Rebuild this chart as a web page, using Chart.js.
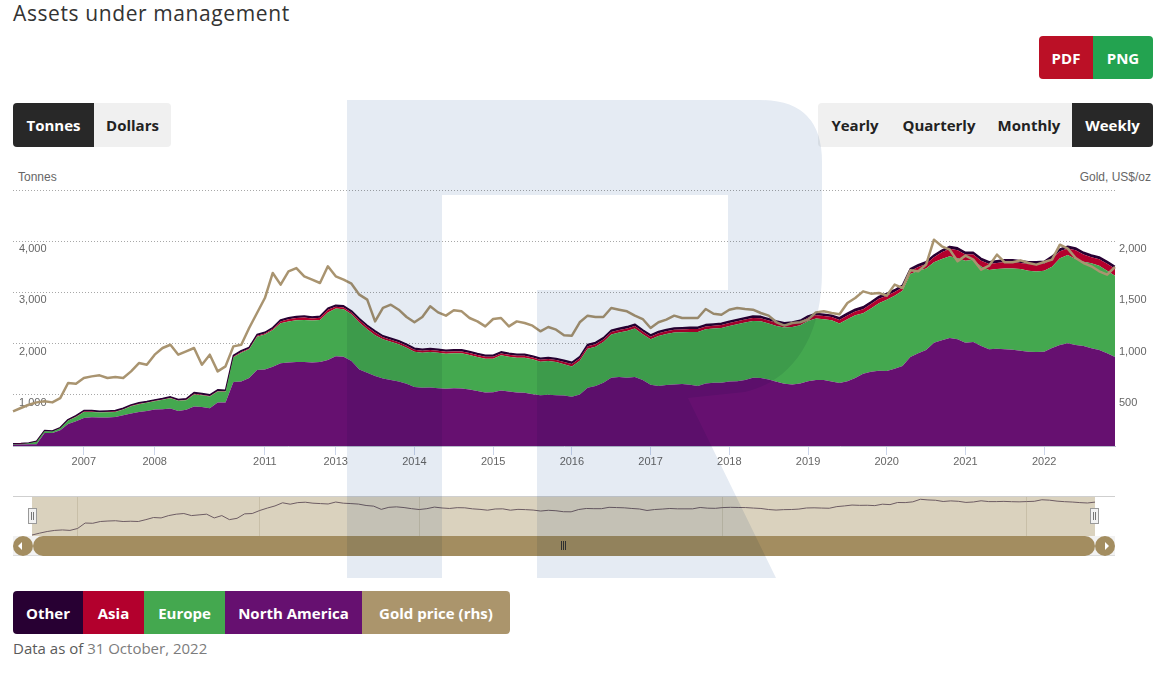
<!DOCTYPE html>
<html>
<head>
<meta charset="utf-8">
<title>Assets under management</title>
<script src="https://cdn.jsdelivr.net/npm/chart.js@4.4.0/dist/chart.umd.min.js"></script>
<style>
body{margin:0;background:#fff;font-family:"Open Sans",sans-serif;}
#page{position:relative;width:1170px;height:675px;overflow:hidden;background:#fff;}
.abs{position:absolute;}
.title{left:13px;top:-1px;font-size:21px;color:#333;line-height:28px;white-space:nowrap;letter-spacing:0.6px;}
.grp{position:absolute;display:flex;border-radius:4px;overflow:hidden;}
.grp div{display:flex;align-items:center;justify-content:center;font-weight:700;font-size:15px;color:#222;}
.grp .on{background:#282828;color:#fff;}
.axt{font-family:"Liberation Sans",Arial,sans-serif;font-size:12px;color:#666;top:170px;}
.leg div{color:#fff;}
.handle{position:absolute;top:508px;width:7px;height:14px;background:#f2f2f2;border:1px solid #999;}
.handle:before,.handle:after{content:"";position:absolute;top:3px;width:1px;height:8px;background:#777;}
.handle:before{left:2px;}
.handle:after{left:4px;}
.circ{position:absolute;top:536px;width:20px;height:20px;border-radius:50%;background:#a38d60;}
.grip{position:absolute;top:541px;width:1px;height:9px;background:#333;}
</style>
</head>
<body>
<div id="page">
  <div class="abs title">Assets under management</div>

  <div class="grp" style="left:1039px;top:36px;height:43px;">
    <div style="width:54px;background:#bb1026;color:#fff;">PDF</div>
    <div style="width:60px;background:#23a350;color:#fff;">PNG</div>
  </div>

  <div class="grp" style="left:13px;top:103px;height:44px;background:#f0f0f0;">
    <div class="on" style="width:81px;">Tonnes</div>
    <div style="width:77px;">Dollars</div>
  </div>

  <div class="grp" style="left:818px;top:103px;height:44px;background:#f0f0f0;">
    <div style="width:74px;">Yearly</div>
    <div style="width:94px;">Quarterly</div>
    <div style="width:86px;">Monthly</div>
    <div class="on" style="width:81px;">Weekly</div>
  </div>

  <div class="abs axt" style="left:18px;">Tonnes</div>
  <div class="abs axt" style="right:19px;">Gold, US$/oz</div>

  <canvas id="main" class="abs" width="1170" height="291" style="left:0;top:185px;"></canvas>

  <!-- navigator -->
  <div class="abs" style="left:13px;top:496px;width:1102px;height:1px;background:#cfcfcf;"></div>
  <div class="abs" style="left:32px;top:497px;width:1063px;height:39px;background:#dad2be;"></div>
  <canvas id="nav" class="abs" width="1063" height="39" style="left:32px;top:497px;"></canvas>
  <div class="handle" style="left:28px;"></div>
  <div class="handle" style="left:1090px;"></div>

  <!-- scrollbar -->
  <div class="abs" style="left:13px;top:536px;width:1102px;height:19px;background:#f2f2f2;border-bottom:1px solid #ddd;"></div>
  <div class="abs" style="left:33px;top:536px;width:1062px;height:20px;border-radius:10px;background:#a38d60;"></div>
  <div class="circ" style="left:13px;"><div class="abs" style="left:5px;top:6px;width:0;height:0;border-top:4px solid transparent;border-bottom:4px solid transparent;border-right:4px solid #fff;"></div></div>
  <div class="circ" style="left:1095px;"><div class="abs" style="left:10px;top:6px;width:0;height:0;border-top:4px solid transparent;border-bottom:4px solid transparent;border-left:4px solid #fff;"></div></div>
  <div class="grip" style="left:561px;"></div>
  <div class="grip" style="left:563px;"></div>
  <div class="grip" style="left:565px;"></div>

  <div class="grp leg" style="left:13px;top:591px;height:43px;">
    <div style="width:70px;background:#280033;">Other</div>
    <div style="width:61px;background:#b3002d;">Asia</div>
    <div style="width:81px;background:#44a84f;">Europe</div>
    <div style="width:137px;background:#661070;">North America</div>
    <div style="width:148px;background:#ab956c;">Gold price (rhs)</div>
  </div>

  <div class="abs" style="left:13px;top:638px;font-size:15px;color:#5a5a5a;white-space:nowrap;">Data as of <span style="color:#7c7c7c;">31 October, 2022</span></div>

  <svg class="abs" width="1170" height="675" style="left:0;top:0;mix-blend-mode:multiply;pointer-events:none;">
    <path d="M347,100 H760 Q822,100 822,162 V272 C822,340 790,382 745,392 L688,398 L776,578 H537 V290 H728 V195 H442 V578 H347 Z" fill="#e5ebf3"/>
  </svg>
</div>

<script>
// weekly series sampled along the chart (ordinal axis)
const periods = [
  '2004-11','2005-03','2005-07','2005-11','2006-02','2006-05','2006-07','2006-09','2006-11',
  '2007-01','2007-02','2007-03','2007-05','2007-06','2007-07','2007-09','2007-10','2007-11',
  '2008-01','2008-02','2008-04','2008-05','2008-06','2008-07','2008-08','2008-09','2008-11','2008-12',
  '2009-02','2009-08','2010-02','2010-08',
  '2011-01','2011-03','2011-06','2011-08','2011-10',
  '2012-01','2012-04','2012-07','2012-10',
  '2013-01','2013-02','2013-03','2013-04','2013-06','2013-07','2013-08','2013-09','2013-10','2013-12',
  '2014-01','2014-02','2014-03','2014-04','2014-06','2014-07','2014-08','2014-09','2014-10','2014-12',
  '2015-01','2015-02','2015-03','2015-04','2015-06','2015-07','2015-08','2015-09','2015-10','2015-12',
  '2016-01','2016-02','2016-03','2016-04','2016-06','2016-07','2016-08','2016-09','2016-10','2016-12',
  '2017-01','2017-02','2017-03','2017-04','2017-06','2017-07','2017-08','2017-09','2017-10','2017-12',
  '2018-01','2018-02','2018-03','2018-04','2018-06','2018-07','2018-08','2018-09','2018-10','2018-12',
  '2019-01','2019-02','2019-03','2019-04','2019-06','2019-07','2019-08','2019-09','2019-10','2019-12',
  '2020-01','2020-02','2020-03','2020-04','2020-06','2020-07','2020-08','2020-09','2020-10','2020-12',
  '2021-01','2021-02','2021-03','2021-04','2021-06','2021-07','2021-08','2021-09','2021-10','2021-12',
  '2022-01','2022-02','2022-03','2022-04','2022-05','2022-06','2022-07','2022-08','2022-09','2022-10'
];

const tickYears = ['2007','2008','2011','2013','2014','2015','2016','2017','2018','2019','2020','2021','2022'];
const navGridPeriods = ['2006-07','2010-02','2014-01','2018-01','2022-01'];

// tonnes
const northAmerica = [
  25, 28, 33, 33, 255, 255, 307, 431, 483, 549,
  562, 555, 555, 568, 601, 634, 666, 686, 712, 719,
  732, 686, 706, 771, 764, 738, 849, 849, 1248, 1261,
  1326, 1483, 1496, 1548, 1614, 1630, 1640, 1640, 1633, 1640,
  1679, 1751, 1744, 1659, 1496, 1431, 1365, 1320, 1287, 1261,
  1215, 1150, 1137, 1143, 1130, 1117, 1130, 1124, 1104, 1072,
  1045, 1052, 1085, 1065, 1045, 1039, 1013, 993, 1000, 993,
  985, 960, 1006, 1137, 1170, 1235, 1333, 1346, 1333, 1346,
  1287, 1196, 1170, 1189, 1202, 1209, 1196, 1170, 1222, 1235,
  1235, 1261, 1267, 1287, 1333, 1326, 1300, 1254, 1215, 1202,
  1222, 1267, 1287, 1287, 1261, 1230, 1267, 1326, 1411, 1450,
  1470, 1464, 1509, 1561, 1738, 1810, 1875, 2019, 2065, 2110,
  2084, 2019, 2032, 1953, 1888, 1901, 1888, 1882, 1862, 1842,
  1836, 1842, 1914, 1973, 2006, 1973, 1953, 1908, 1875, 1810, 1738
];
const europe = [
  14, 12, 20, 52, 33, 26, 39, 66, 85, 117,
  104, 98, 105, 98, 111, 143, 151, 157, 163, 183,
  202, 196, 189, 235, 229, 229, 216, 209, 483, 562,
  562, 653, 680, 719, 784, 800, 816, 823, 817, 823,
  928, 934, 928, 915, 915, 849, 797, 764, 751, 725,
  706, 692, 686, 693, 693, 686, 680, 686, 673, 666,
  660, 653, 686, 679, 680, 686, 679, 653, 659, 647,
  610, 595, 660, 764, 770, 797, 843, 869, 914, 947,
  895, 888, 979, 1000, 1013, 1012, 1032, 1058, 1058, 1058,
  1071, 1084, 1111, 1124, 1110, 1111, 1091, 1091, 1098, 1124,
  1136, 1176, 1202, 1189, 1195, 1165, 1209, 1229, 1183, 1235,
  1320, 1391, 1424, 1470, 1620, 1613, 1594, 1568, 1587, 1594,
  1581, 1600, 1607, 1555, 1548, 1555, 1581, 1587, 1594, 1581,
  1574, 1581, 1588, 1692, 1724, 1679, 1647, 1659, 1646, 1613, 1587
];
const asia = [
  2, 2, 2, 2, 4, 4, 4, 6, 8, 8,
  8, 8, 8, 8, 8, 8, 8, 8, 8, 8,
  8, 8, 8, 16, 10, 10, 10, 10, 16, 15,
  15, 16, 21, 22, 35, 45, 42, 48, 42, 42,
  55, 35, 35, 35, 48, 48, 55, 38, 38, 40,
  38, 38, 36, 38, 38, 36, 38, 38, 38, 38,
  38, 38, 38, 38, 38, 38, 38, 38, 38, 38,
  45, 45, 46, 47, 48, 48, 50, 50, 50, 52,
  52, 52, 53, 53, 54, 54, 55, 55, 56, 56,
  57, 57, 58, 58, 59, 60, 60, 61, 61, 62,
  62, 63, 63, 64, 64, 66, 73, 72, 79, 86,
  85, 79, 73, 66, 60, 73, 86, 98, 130, 150,
  160, 119, 99, 112, 119, 118, 125, 125, 118, 132,
  145, 138, 160, 138, 125, 170, 138, 118, 125, 138, 138
];
const other = [
  5, 5, 5, 5, 9, 9, 9, 13, 18, 18,
  18, 18, 18, 18, 18, 18, 18, 18, 18, 18,
  18, 18, 18, 23, 23, 23, 23, 23, 24, 24,
  24, 24, 24, 24, 30, 30, 30, 30, 30, 30,
  30, 30, 30, 30, 30, 30, 30, 30, 30, 30,
  30, 30, 30, 30, 30, 30, 30, 30, 30, 30,
  30, 30, 30, 30, 30, 30, 30, 30, 30, 30,
  35, 35, 35, 35, 35, 35, 35, 35, 35, 35,
  35, 35, 35, 35, 35, 35, 35, 35, 35, 35,
  35, 35, 35, 35, 35, 35, 35, 35, 35, 35,
  35, 35, 35, 35, 35, 45, 45, 45, 45, 45,
  45, 45, 45, 45, 45, 45, 45, 45, 45, 45,
  45, 45, 45, 45, 45, 45, 45, 45, 45, 45,
  45, 45, 45, 45, 45, 45, 45, 45, 45, 45, 45
];
// US$/oz
const goldPrice = [
  338, 371, 403, 426, 436, 426, 468, 615, 608, 664,
  680, 690, 664, 673, 664, 729, 810, 794, 892, 957,
  989, 892, 924, 957, 794, 892, 729, 778, 973, 989,
  1152, 1299, 1445, 1690, 1576, 1705, 1738, 1657, 1624, 1592,
  1755, 1657, 1624, 1585, 1478, 1429, 1217, 1348, 1380, 1331,
  1260, 1208, 1260, 1364, 1305, 1273, 1325, 1315, 1250, 1217,
  1168, 1240, 1250, 1168, 1217, 1201, 1175, 1120, 1162, 1136,
  1082, 1077, 1208, 1273, 1260, 1260, 1348, 1331, 1315, 1273,
  1240, 1152, 1208, 1234, 1273, 1250, 1250, 1250, 1338, 1292,
  1282, 1331, 1348, 1338, 1331, 1299, 1273, 1208, 1175, 1201,
  1208, 1234, 1305, 1315, 1299, 1287, 1396, 1445, 1510, 1488,
  1494, 1468, 1576, 1543, 1716, 1706, 1771, 2015, 1950, 1918,
  1804, 1859, 1820, 1722, 1761, 1869, 1794, 1794, 1813, 1787,
  1771, 1797, 1820, 1966, 1927, 1836, 1787, 1755, 1706, 1673, 1748
];

const colors = {
  na: '#661070',
  europe: '#44a84f',
  asia: '#b3002d',
  other: '#280033',
  gold: '#a99470'
};

const yearIdx = tickYears.map(y => periods.findIndex(p => p.slice(0, 4) === y));
const navIdx = navGridPeriods.map(p => periods.indexOf(p));
const tickFont = {family: '"Liberation Sans", Arial, sans-serif', size: 11};

new Chart(document.getElementById('main'), {
  type: 'line',
  data: {
    labels: periods,
    datasets: [
      {label: 'North America', data: northAmerica, backgroundColor: colors.na, borderWidth: 0, fill: 'origin', yAxisID: 'y', order: 1},
      {label: 'Europe', data: europe, backgroundColor: colors.europe, borderWidth: 0, fill: '-1', yAxisID: 'y', order: 1},
      {label: 'Asia', data: asia, backgroundColor: colors.asia, borderWidth: 0, fill: '-1', yAxisID: 'y', order: 1},
      {label: 'Other', data: other, backgroundColor: colors.other, borderColor: colors.other, borderWidth: 1.5, fill: '-1', yAxisID: 'y', order: 1},
      {label: 'Gold price (rhs)', data: goldPrice, borderColor: colors.gold, borderWidth: 2.5, fill: false, yAxisID: 'y2', order: 0}
    ]
  },
  options: {
    responsive: false,
    animation: false,
    layout: {padding: {top: 5, left: 0, right: 0, bottom: 0}},
    elements: {point: {radius: 0}, line: {tension: 0, borderJoinStyle: 'round'}},
    plugins: {legend: {display: false}, tooltip: {enabled: false}},
    scales: {
      x: {
        offset: false,
        grid: {drawOnChartArea: false, drawTicks: true, tickLength: 9, tickColor: '#ccd6eb'},
        border: {display: true, color: '#b8bccb'},
        ticks: {
          autoSkip: false, maxRotation: 0, padding: 0, color: '#666', font: tickFont,
          callback: v => periods[v].slice(0, 4)
        },
        afterBuildTicks: axis => { axis.ticks = yearIdx.map(i => ({value: i})); },
        afterFit: axis => { axis.height = 30; axis.paddingLeft = 0; axis.paddingRight = 0; }
      },
      y: {
        stacked: true, position: 'left', min: 0, max: 5000,
        ticks: {
          stepSize: 1000, mirror: true, padding: 6, labelOffset: 8, color: '#666', font: tickFont,
          callback: v => (v > 0 && v < 5000) ? v.toLocaleString('en-US') : ''
        },
        grid: {color: c => (c.tick && c.tick.value === 0) ? 'rgba(0,0,0,0)' : '#a8a8a8', drawTicks: false},
        border: {display: false, dash: [1, 2]},
        afterFit: axis => { axis.width = 13; axis.paddingTop = 0; axis.paddingBottom = 0; }
      },
      y2: {
        position: 'right', min: 0, max: 2500,
        ticks: {
          stepSize: 500, padding: 4, labelOffset: 8, color: '#666', font: tickFont,
          callback: v => (v > 0 && v < 2500) ? v.toLocaleString('en-US') : ''
        },
        grid: {display: false, drawTicks: false},
        border: {display: false},
        afterFit: axis => { axis.width = 55; axis.paddingTop = 0; axis.paddingBottom = 0; }
      }
    }
  }
});

// navigator strip
new Chart(document.getElementById('nav'), {
  type: 'line',
  data: {
    labels: periods,
    datasets: [{data: goldPrice, borderColor: '#6d5c63', borderWidth: 1, pointRadius: 0, fill: false, tension: 0}]
  },
  options: {
    responsive: false,
    animation: false,
    layout: {padding: 0},
    plugins: {legend: {display: false}, tooltip: {enabled: false}},
    scales: {
      x: {
        ticks: {display: false},
        grid: {color: '#c8bfa8', drawTicks: false},
        border: {display: false},
        afterBuildTicks: axis => { axis.ticks = navIdx.map(i => ({value: i})); },
        afterFit: axis => { axis.height = 0; }
      },
      y: {type: 'logarithmic', display: false, min: 322, max: 2257}
    }
  }
});
</script>
</body>
</html>
